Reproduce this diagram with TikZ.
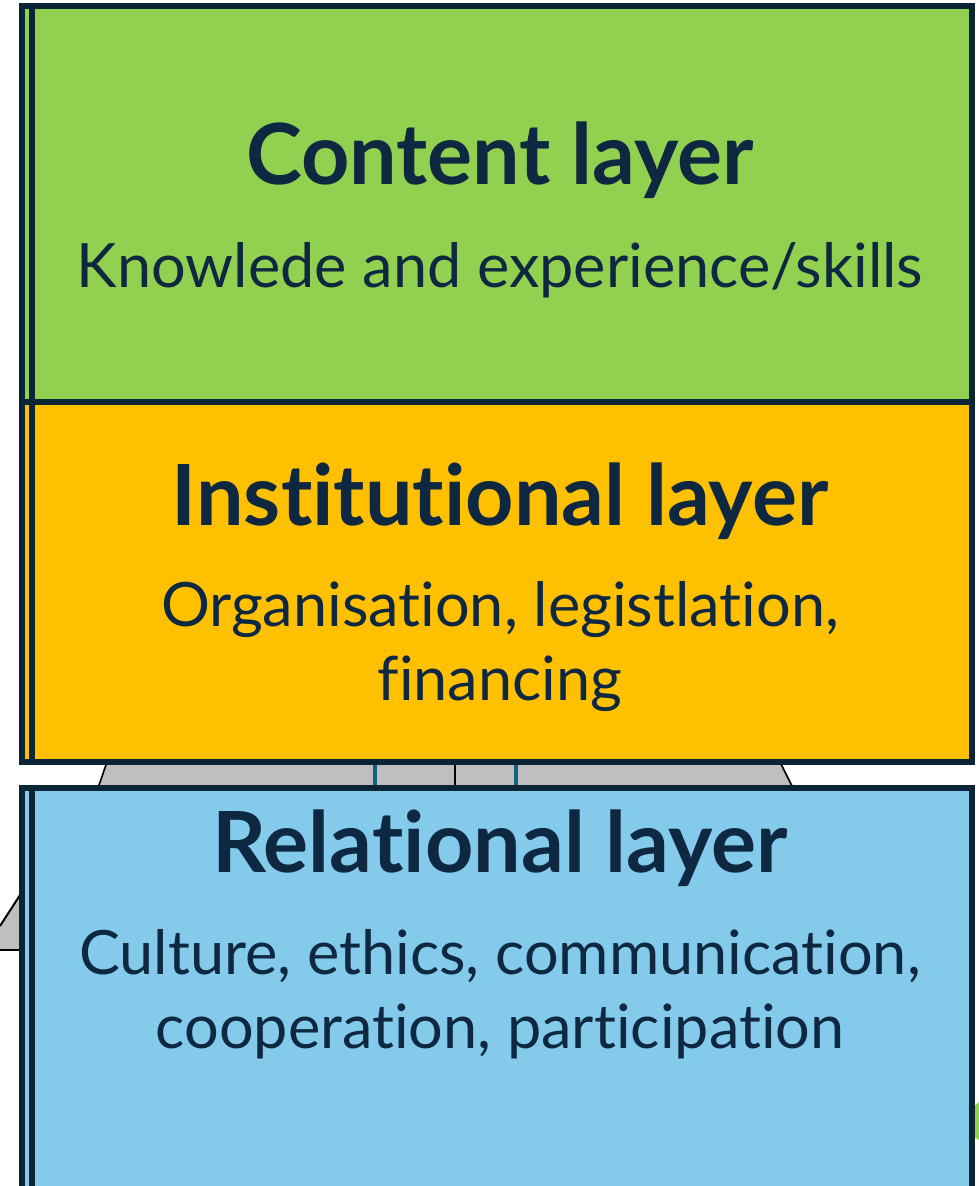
\documentclass[tikz,border=0pt]{standalone}
\usepackage{fontspec}
\setmainfont{Lato}[Ligatures={NoCommon}]
\usepackage{tikz}
\usetikzlibrary{positioning}
\pgfdeclarelayer{bg}
\pgfsetlayers{bg,main}
\definecolor{layerline}{HTML}{0B2536}
\definecolor{textnavy}{HTML}{0E2841}
\definecolor{contentgreen}{HTML}{92D050}
\definecolor{instorange}{HTML}{FFC000}
\definecolor{relblue}{HTML}{83CAEB}
\definecolor{jointgray}{HTML}{BFBFBF}
\definecolor{jointblue}{HTML}{156082}
\tikzset{
  layerbox/.style={draw=layerline, line width=0.15cm, inner sep=0pt, outer sep=0pt, minimum width=23.75cm},
  layertitle/.style={anchor=base, inner sep=0pt, text=textnavy, font=\bfseries\fontsize{60}{66}\selectfont},
  layertext/.style={anchor=base, inner sep=0pt, text=textnavy, align=center, font=\fontsize{43.5}{52}\selectfont},
}

\begin{document}
\begin{tikzpicture}[x=0.025cm, y=-0.025cm]
        \useasboundingbox (0,0) rectangle (979,1186);
        \clip (0,0) rectangle (979,1186);
        % layers
        \node (content) [layerbox, fill=contentgreen, minimum height=9.9125cm] at (497, 204.25) {};
        \node (inst) [layerbox, fill=instorange, minimum height=8.9875cm] at (497, 582.25) {};
        \node (rel) [layerbox, fill=relblue, minimum height=10.3cm] at (497, 994) {};
        \draw [layerline, line width=0.15cm] ([xshift=0.25cm]content.north west) -- ([xshift=0.25cm]inst.south west);
        \draw [layerline, line width=0.15cm] ([xshift=0.25cm]rel.north west) -- ([xshift=0.25cm]rel.south west);
        % texts (multi-line texts sit on their last baseline)
        \node (contenttitle) [layertitle] at (500, 184) {Content layer};
        \node (contenttext) [layertext] at (500, 287) {Knowlede and experience/skills};
        \node (insttitle) [layertitle] at (500, 525) {Institutional layer};
        \node (insttext) [layertext] at (500, 700) {Organisation, legistlation,\\financing};
        \node (reltitle) [layertitle] at (500, 872) {Relational layer};
        \node (reltext) [layertext] at (500, 1048) {Culture, ethics, communication,\\cooperation, participation};
        \begin{pgfonlayer}{bg}
                % joint between the layers
                \coordinate (jtl) at (107, 762);
                \coordinate (jtr) at (780, 762);
                \coordinate (jbr) at (793, 788);
                \coordinate (jbl) at (98, 788);
                \fill [jointgray] (jtl) -- (jtr) -- (jbr) -- (jbl) -- cycle;
                \draw [black, line width=0.04cm] (jtl) -- (jbl);
                \draw [black, line width=0.04cm] (jtr) -- (jbr);
                \draw [black, line width=0.03cm] (455, 762) -- (455, 788);
                \draw [jointblue, line width=0.1cm] (375, 762) -- (375, 788);
                \draw [jointblue, line width=0.1cm] (516, 762) -- (516, 788);
                % shapes behind
                \fill [jointgray] (0, 926) -- (22, 892) -- (22, 950) -- (0, 950) -- cycle;
                \draw [black, line width=0.05cm] (0, 926) -- (22, 892);
                \draw [black, line width=0.05cm] (0, 950) -- (22, 950);
                \fill [contentgreen] (972, 1108) -- (979, 1102) -- (979, 1140) -- (972, 1136) -- cycle;
        \end{pgfonlayer}
\end{tikzpicture}
\end{document}
